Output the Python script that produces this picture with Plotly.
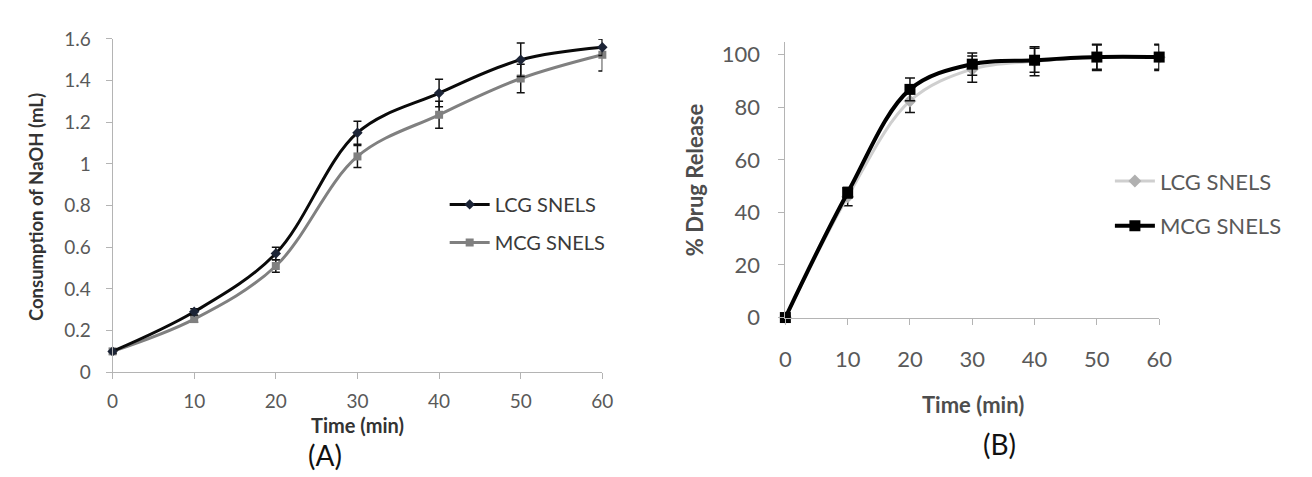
import plotly.graph_objects as go

# ---------------- data ----------------
time_min = [0, 10, 20, 30, 40, 50, 60]

# Panel A: consumption of NaOH (mL)
lcg_naoh = [0.10, 0.29, 0.57, 1.15, 1.34, 1.50, 1.56]
lcg_naoh_err = [0.01, 0.015, 0.03, 0.055, 0.066, 0.08, 0.04]
mcg_naoh = [0.10, 0.255, 0.51, 1.036, 1.236, 1.41, 1.524]
mcg_naoh_err = [0.01, 0.015, 0.03, 0.053, 0.065, 0.068, 0.078]

# Panel B: % drug release
lcg_release = [0, 46.0, 82.4, 94.5, 97.5, 99.0, 99.0]
lcg_release_err = [0.5, 3.5, 4.4, 5.0, 5.5, 5.0, 5.0]
mcg_release = [0, 47.5, 86.8, 96.4, 97.9, 99.1, 99.1]
mcg_release_err = [0.5, 2.0, 4.3, 4.2, 4.6, 4.6, 4.6]

naoh_ticks = [0, 0.2, 0.4, 0.6, 0.8, 1, 1.2, 1.4, 1.6]
naoh_ticktext = ["0", "0.2", "0.4", "0.6", "0.8", "1", "1.2", "1.4", "1.6"]
release_ticks = [0, 20, 40, 60, 80, 100]
time_ticks = [0, 10, 20, 30, 40, 50, 60]

W, H = 1312, 477
FONT = "Lato"
TICK_GRAY = "#595959"
AXIS_GRAY = "#b4b4b4"


def px(x):
    return x / W


def py(y):
    return 1 - y / H


fig = go.Figure()

# ---- Panel A traces ----
fig.add_trace(go.Scatter(
    x=time_min, y=mcg_naoh, name="MCG SNELS", mode="lines+markers",
    line=dict(color="#808080", width=3, shape="spline", smoothing=1),
    marker=dict(symbol="square", size=8, color="#808080"),
    error_y=dict(type="data", array=mcg_naoh_err, visible=True, color="#111111", thickness=1.5, width=4),
    xaxis="x", yaxis="y", legend="legend", legendrank=2, legendgroup="a2", cliponaxis=False,
))
fig.add_trace(go.Scatter(
    x=time_min, y=lcg_naoh, name="LCG SNELS", mode="lines+markers",
    line=dict(color="#0a0a0a", width=3, shape="spline", smoothing=1),
    marker=dict(symbol="diamond", size=8, color="#1c2436"),
    error_y=dict(type="data", array=lcg_naoh_err, visible=True, color="#111111", thickness=1.5, width=4),
    xaxis="x", yaxis="y", legend="legend", legendrank=1, legendgroup="a1", cliponaxis=False,
))

# ---- Panel B traces ----
fig.add_trace(go.Scatter(
    x=time_min, y=lcg_release, name="LCG SNELS", mode="lines+markers",
    line=dict(color="#cfcfcf", width=3, shape="spline", smoothing=1),
    marker=dict(symbol="diamond", size=10, color="#b0b0b0"),
    error_y=dict(type="data", array=lcg_release_err, visible=True, color="#111111", thickness=1.5, width=5),
    xaxis="x2", yaxis="y2", legend="legend2", legendrank=1, legendgroup="b1", cliponaxis=False,
))
fig.add_trace(go.Scatter(
    x=time_min, y=mcg_release, name="MCG SNELS", mode="lines+markers",
    line=dict(color="#000000", width=4, shape="spline", smoothing=1),
    marker=dict(symbol="square", size=11, color="#000000"),
    error_y=dict(type="data", array=mcg_release_err, visible=True, color="#111111", thickness=1.5, width=5),
    xaxis="x2", yaxis="y2", legend="legend2", legendrank=2, legendgroup="b2", cliponaxis=False,
))

axis_common = dict(
    showgrid=False, zeroline=False, showline=True, linecolor=AXIS_GRAY, linewidth=1,
    ticks="outside", tickcolor=AXIS_GRAY, ticklen=6, tickwidth=1,
)


def label(text, x, y, size, color, angle=0):
    return dict(text=text, x=px(x), y=py(y), xref="paper", yref="paper",
                xanchor="center", yanchor="middle", textangle=angle, showarrow=False,
                font=dict(size=size, color=color, family=FONT))


fig.update_layout(
    width=W, height=H,
    margin=dict(l=0, r=0, t=0, b=0),
    paper_bgcolor="white", plot_bgcolor="white",
    font=dict(family=FONT, color=TICK_GRAY),
    xaxis=dict(domain=[px(100), px(597)], range=[0, 60], tickvals=time_ticks,
               tickfont=dict(size=19, color=TICK_GRAY), ticklabelstandoff=6,
               anchor="y", **axis_common),
    yaxis=dict(domain=[py(371.7), py(20)], range=[0, 1.6], tickvals=naoh_ticks,
               ticktext=naoh_ticktext, tickfont=dict(size=19, color=TICK_GRAY),
               ticklabelstandoff=11, anchor="x", **axis_common),
    xaxis2=dict(domain=[px(782.7), px(1162)], range=[0, 60], tickvals=time_ticks,
                tickfont=dict(size=22, color=TICK_GRAY), ticklabelstandoff=16,
                anchor="y2", **axis_common),
    yaxis2=dict(domain=[py(314), py(23.3)], range=[0, 104.8], tickvals=release_ticks,
                tickfont=dict(size=22, color=TICK_GRAY), ticklabelstandoff=14,
                anchor="x2", **axis_common),
    legend=dict(x=px(437), y=py(174), xanchor="left", yanchor="top",
                font=dict(size=20, color="#3a3a3a", family=FONT),
                bgcolor="rgba(0,0,0,0)", traceorder="grouped", tracegroupgap=9,
                itemwidth=40),
    legend2=dict(x=px(1112), y=py(148), xanchor="left", yanchor="top",
                 font=dict(size=22, color=TICK_GRAY, family=FONT),
                 bgcolor="rgba(0,0,0,0)", traceorder="grouped", tracegroupgap=13,
                 itemwidth=40),
    annotations=[
        label("<b>Consumption of NaOH (mL)</b>", 21.7, 197, 18.5, "#333333", -90),
        label("<b>Time (min)</b>", 349, 427, 20, "#333333"),
        label("(A)", 316, 459, 28, "#111111"),
        label("<b>% Drug Release</b>", 690, 169, 22, "#4d4d4d", -90),
        label("<b>Time (min)</b>", 973, 406, 22, "#4d4d4d"),
        label("(B)", 1000, 447, 28, "#111111"),
    ],
)

fig.write_html("out.html")
